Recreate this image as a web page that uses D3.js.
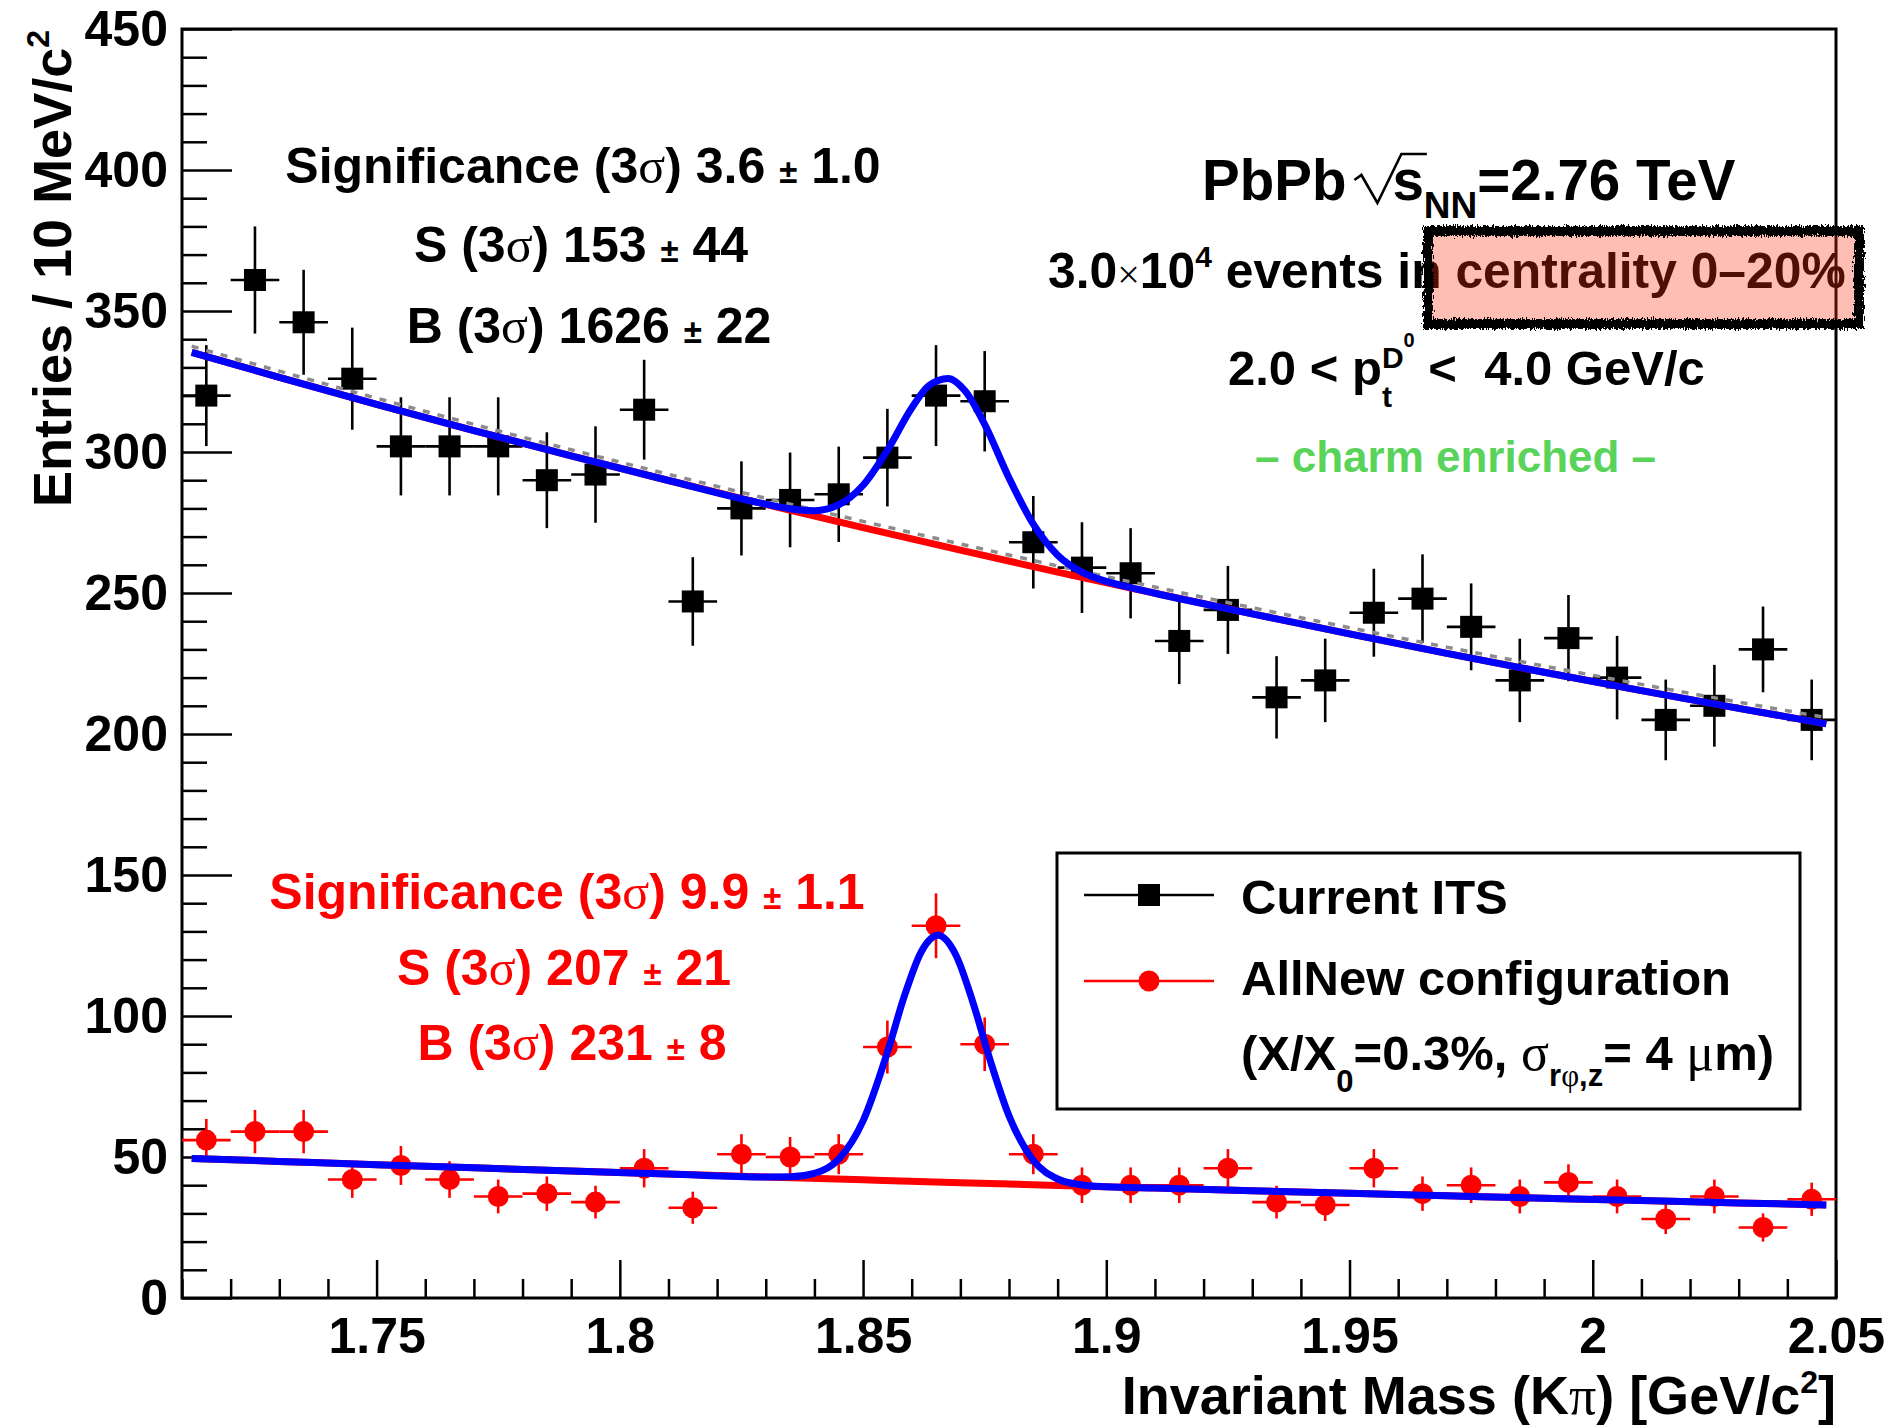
<!DOCTYPE html>
<html><head><meta charset="utf-8">
<script src="https://cdn.jsdelivr.net/npm/d3@7"></script>
<style>body{margin:0;background:#fff}svg{display:block}text{white-space:pre}</style>
</head><body>
<svg id="chart" width="1894" height="1428" xmlns="http://www.w3.org/2000/svg"></svg>
<script>
// ---------------- data ----------------
const massBins = [1.715,1.725,1.735,1.745,1.755,1.765,1.775,1.785,1.795,1.805,1.815,1.825,1.835,1.845,1.855,1.865,1.875,1.885,1.895,1.905,1.915,1.925,1.935,1.945,1.955,1.965,1.975,1.985,1.995,2.005,2.015,2.025,2.035,2.045];
const binHalfWidth = 0.005;
const currentITS = [320,361,346,326,302,302,302,290,292,315,247,280,283,285,298,320,318,268,259,257,233,244,213,219,243,248,238,219,234,220,205,210,230,205];
const currentITSErr = [17.9,19.0,18.6,18.1,17.4,17.4,17.4,17.0,17.1,17.7,15.7,16.7,16.8,16.9,17.3,17.9,17.8,16.4,16.1,16.0,15.3,15.6,14.6,14.8,15.6,15.7,15.4,14.8,15.3,14.8,14.3,14.5,15.2,14.3];
const allNew = [56,59,59,42,47,42,36,37,34,46,32,51,50,51,89,132,90,51,40,40,40,46,34,33,46,37,40,36,41,36,28,36,25,35];
const allNewErr = [7.5,7.7,7.7,6.5,6.9,6.5,6.0,6.1,5.8,6.8,5.7,7.1,7.1,7.1,9.4,11.5,9.5,7.1,6.3,6.3,6.3,6.8,5.8,5.7,6.8,6.1,6.3,6.0,6.4,6.0,5.3,6.0,5.0,5.9];

// fit curves
const fitMassCurrent = [1.712,1.73,1.75,1.77,1.79,1.81,1.83,1.835,1.84,1.845,1.85,1.855,1.86,1.8635,1.8675,1.871,1.875,1.88,1.885,1.89,1.895,1.9,1.905,1.91,1.93,1.95,1.97,1.99,2.01,2.03,2.048];
const fitTotalCurrent = [335.3,326.5,316.9,307.6,298.6,289.9,281.5,279.9,279.2,281.3,288.2,300.6,315.6,323.5,326.1,321.6,309.8,290.8,274.4,263.4,257.4,254.1,251.9,249.9,242.6,235.5,228.6,221.9,215.4,209.1,203.6];
const fitMassAllNew = [1.712,1.73,1.75,1.77,1.79,1.81,1.83,1.835,1.84,1.845,1.85,1.855,1.8585,1.862,1.8654,1.869,1.8725,1.876,1.88,1.885,1.89,1.895,1.9,1.91,1.93,1.95,1.97,1.99,2.01,2.03,2.048];
const fitTotalAllNew = [49.5,48.44,47.28,46.15,45.05,43.98,42.93,43.0,44.2,49.25,62.8,87.15,107.1,122.9,128.6,121.9,105.3,85.0,64.6,48.8,42.2,40.1,39.45,38.98,38.05,37.14,36.25,35.39,34.55,33.72,33.0];
const bgMass = [1.712,1.73,1.75,1.77,1.79,1.81,1.83,1.85,1.87,1.89,1.91,1.93,1.95,1.97,1.99,2.01,2.03,2.048];
const bgCurrent = [335.3,326.5,316.9,307.6,298.6,289.9,281.4,273.2,265.2,257.4,249.9,242.6,235.5,228.6,221.9,215.4,209.1,203.6];
const sidebandCurrent = [337.5,328.7,319.1,309.8,300.8,292.1,283.6,275.4,267.4,259.6,252.1,244.8,237.7,230.8,224.1,217.6,211.3,205.8];
const bgAllNew = [49.5,48.44,47.28,46.15,45.05,43.98,42.93,41.90,40.91,39.93,38.98,38.05,37.14,36.25,35.39,34.55,33.72,33.0];

const xTickValues = [1.75,1.8,1.85,1.9,1.95,2.0,2.05];
const xTickLabels = ["1.75","1.8","1.85","1.9","1.95","2","2.05"];
const yTickValues = [0,50,100,150,200,250,300,350,400,450];
const yTickLabels = ["0","50","100","150","200","250","300","350","400","450"];
const seriesNames = ["Current ITS","AllNew configuration"];

// ---------------- setup ----------------
const SANS = "'Liberation Sans', Arial, Helvetica, sans-serif";
const SERIF = "'Liberation Serif', 'Times New Roman', serif";
const W = 1894, H = 1428;
const m = {left:182, right:58, top:29, bottom:130};
const svg = d3.select('#chart');
svg.append('rect').attr('width',W).attr('height',H).attr('fill','#fff');

const defs = svg.append('defs');
const f = defs.append('filter').attr('id','rough').attr('x','-5%').attr('y','-25%').attr('width','110%').attr('height','150%');
f.append('feTurbulence').attr('type','fractalNoise').attr('baseFrequency','0.9 0.25').attr('numOctaves',2).attr('seed',4).attr('result','n');
f.append('feDisplacementMap').attr('in','SourceGraphic').attr('in2','n').attr('scale',8).attr('xChannelSelector','R').attr('yChannelSelector','G');

const x = d3.scaleLinear().domain([1.71,2.05]).range([m.left, W-m.right]);
const y = d3.scaleLinear().domain([0,450]).range([H-m.bottom, m.top]);

// rich text helper
function richText(parent, px, py, segs, opts) {
  const t = parent.append('text').attr('fill', opts.fill || '#000').attr('xml:space','preserve');
  let cur = 0; const nodes = [];
  segs.forEach(s => {
    const sp = t.append('tspan').text(s.t)
      .attr('font-size', s.size || opts.size)
      .attr('font-family', s.serif ? SERIF : SANS)
      .attr('font-weight', s.serif ? 'normal' : 'bold')
      .attr('y', py + (s.dy || 0));
    const sx = cur + (s.dx || 0);
    sp.attr('x', sx);
    const w = sp.node().getComputedTextLength();
    if (!s.hold) cur = sx + w;
    nodes.push({sp, sx, w});
  });
  const shift = opts.anchor === 'middle' ? px - cur/2 : (opts.anchor === 'end' ? px - cur : px);
  nodes.forEach(n => { n.sp.attr('x', n.sx + shift); n.x = n.sx + shift; });
  return nodes;
}

// ---------------- axes ----------------
const gx = svg.append('g').attr('transform', `translate(0,${H-m.bottom})`);
gx.call(d3.axisBottom(x).tickValues(xTickValues).tickSize(-38).tickPadding(19)
  .tickFormat((d,i) => xTickLabels[i]));
const xMinor = d3.range(171, 206).filter(i => i % 5 !== 0).map(i => i/100);
const gxm = svg.append('g').attr('transform', `translate(0,${H-m.bottom})`);
gxm.call(d3.axisBottom(x).tickValues(xMinor).tickSize(-19).tickFormat(''));

const gy = svg.append('g').attr('transform', `translate(${m.left},0)`);
gy.call(d3.axisLeft(y).tickValues(yTickValues).tickSize(-50).tickPadding(14)
  .tickFormat((d,i) => yTickLabels[i]));
const yMinor = d3.range(0, 451, 10).filter(v => v % 50 !== 0);
const gym = svg.append('g').attr('transform', `translate(${m.left},0)`);
gym.call(d3.axisLeft(y).tickValues(yMinor).tickSize(-25).tickFormat(''));

[gx,gxm,gy,gym].forEach(g => {
  g.select('.domain').remove();
  g.selectAll('.tick line').attr('stroke','#000').attr('stroke-width',2.5);
  g.selectAll('.tick text').attr('font-family',SANS).attr('font-weight','bold')
    .attr('font-size',50).attr('fill','#000');
});

// frame
svg.append('rect').attr('x',m.left).attr('y',m.top)
  .attr('width',W-m.left-m.right).attr('height',H-m.top-m.bottom)
  .attr('fill','none').attr('stroke','#000').attr('stroke-width',3);

// axis titles
richText(svg, W-m.right, 1414, [
  {t:'Invariant Mass (K'}, {t:'π', serif:true}, {t:') [GeV/c'}, {t:'2', size:32, dy:-21}, {t:']'}
], {size:54, anchor:'end'});
const yt = svg.append('g').attr('transform','translate(71,30) rotate(-90)');
richText(yt, 0, 0, [
  {t:'Entries / 10 MeV/c'}, {t:'2', size:32, dy:-22}
], {size:54, anchor:'end'});

// ---------------- data drawing ----------------
function drawPoints(vals, errs, color, marker) {
  const g = svg.append('g');
  massBins.forEach((mb, i) => {
    g.append('line').attr('x1',x(mb)).attr('x2',x(mb))
      .attr('y1',y(vals[i]-errs[i])).attr('y2',y(vals[i]+errs[i]))
      .attr('stroke',color).attr('stroke-width',2.6);
    g.append('line').attr('x1',x(mb-binHalfWidth)).attr('x2',x(mb+binHalfWidth))
      .attr('y1',y(vals[i])).attr('y2',y(vals[i]))
      .attr('stroke',color).attr('stroke-width',2.6);
  });
  massBins.forEach((mb, i) => {
    if (marker === 'square') {
      g.append('rect').attr('x',x(mb)-11).attr('y',y(vals[i])-11)
        .attr('width',22).attr('height',22).attr('fill',color);
    } else {
      g.append('circle').attr('cx',x(mb)).attr('cy',y(vals[i])).attr('r',10.5).attr('fill',color);
    }
  });
}
const lineGen = (xs, ys) => d3.line().x((d,i) => x(xs[i])).y(d => y(d)).curve(d3.curveMonotoneX)(ys);

drawPoints(currentITS, currentITSErr, '#000', 'square');
drawPoints(allNew, allNewErr, '#ff0000', 'circle');

// fits
svg.append('path').attr('d', lineGen(bgMass, sidebandCurrent)).attr('fill','none')
  .attr('stroke','#8c8c8c').attr('stroke-width',3.5).attr('stroke-dasharray','7,8');
svg.append('path').attr('d', lineGen(bgMass, bgCurrent)).attr('fill','none')
  .attr('stroke','#ff0000').attr('stroke-width',7);
svg.append('path').attr('d', lineGen(fitMassCurrent, fitTotalCurrent)).attr('fill','none')
  .attr('stroke','#0000ff').attr('stroke-width',7).attr('stroke-linejoin','round');
svg.append('path').attr('d', lineGen(bgMass, bgAllNew)).attr('fill','none')
  .attr('stroke','#ff0000').attr('stroke-width',7);
svg.append('path').attr('d', lineGen(fitMassAllNew, fitTotalAllNew)).attr('fill','none')
  .attr('stroke','#0000ff').attr('stroke-width',7).attr('stroke-linejoin','round');

// ---------------- annotations ----------------
function statLines(cx, ys, color, lines) {
  lines.forEach((L, i) => {
    richText(svg, cx[i], ys[i], [
      {t:L[0] + ' (3'}, {t:'σ', serif:true}, {t:') ' + L[1] + ' '}, {t:'±', size:33}, {t:' ' + L[2]}
    ], {size:50, anchor:'middle', fill:color});
  });
}
statLines([583,581,589],[183,262,343],'#000',[['Significance','3.6','1.0'],['S','153','44'],['B','1626','22']]);
statLines([567,564,572],[909,985,1060],'#ff0000',[['Significance','9.9','1.1'],['S','207','21'],['B','231','8']]);

// PbPb sqrt(s_NN)
const l1 = richText(svg, 1202, 200, [
  {t:'PbPb'}, {t:'s', dx:46}, {t:'NN', size:37, dy:18}, {t:'=2.76 TeV'}
], {size:56.5, anchor:'start'});
{
  const sx = l1[1].x, se = l1[1].x + l1[1].w, b = 200;
  svg.append('path')
    .attr('d', `M${sx-38},${b-20} L${sx-31},${b-25} L${sx-15},${b+3} L${sx+9},${b-46} L${se+3},${b-46}`)
    .attr('fill','none').attr('stroke','#000').attr('stroke-width',2.6).attr('stroke-linejoin','miter');
}
richText(svg, 1048, 288, [
  {t:'3.0'}, {t:'×', serif:true, size:40}, {t:'10'}, {t:'4', size:30, dy:-21}, {t:' events in centrality 0–20%'}
], {size:49.8, anchor:'start'});
richText(svg, 1228, 385, [
  {t:'2.0 < p'}, {t:'t', size:30, dy:22, hold:true}, {t:'D', size:30, dy:-17}, {t:'0', size:20, dy:-38},
  {t:' <  4.0 GeV/c'}
], {size:49, anchor:'start'});
richText(svg, 1255, 472, [{t:'– charm enriched –'}], {size:44, anchor:'start', fill:'#5ad35a'});

// highlight box
svg.append('rect').attr('x',1428).attr('y',231).attr('width',431).attr('height',93)
  .attr('fill','rgba(255,48,16,0.314)');
svg.append('rect').attr('x',1428).attr('y',231).attr('width',431).attr('height',93)
  .attr('fill','none').attr('stroke','#000').attr('stroke-width',10).attr('filter','url(#rough)');

// ---------------- legend ----------------
const lg = svg.append('g');
lg.append('rect').attr('x',1057).attr('y',853).attr('width',743).attr('height',256)
  .attr('fill','#fff').attr('stroke','#000').attr('stroke-width',3);
lg.append('line').attr('x1',1084).attr('x2',1214).attr('y1',895).attr('y2',895).attr('stroke','#000').attr('stroke-width',2.6);
lg.append('rect').attr('x',1149-11).attr('y',895-11).attr('width',22).attr('height',22).attr('fill','#000');
lg.append('line').attr('x1',1084).attr('x2',1214).attr('y1',981).attr('y2',981).attr('stroke','#ff0000').attr('stroke-width',2.6);
lg.append('circle').attr('cx',1149).attr('cy',981).attr('r',10.5).attr('fill','#ff0000');
richText(lg, 1241, 914, [{t:seriesNames[0]}], {size:49, anchor:'start'});
richText(lg, 1241, 995, [{t:seriesNames[1]}], {size:49, anchor:'start'});
richText(lg, 1241, 1070, [
  {t:'(X/X'}, {t:'0', size:31, dy:22}, {t:'=0.3%, '}, {t:'σ', serif:true, size:52},
  {t:'r', size:31, dy:16}, {t:'φ', serif:true, size:31, dy:16}, {t:',z', size:31, dy:16},
  {t:'= 4 '}, {t:'μ', serif:true, size:52}, {t:'m)'}
], {size:49, anchor:'start'});
</script>
</body></html>
